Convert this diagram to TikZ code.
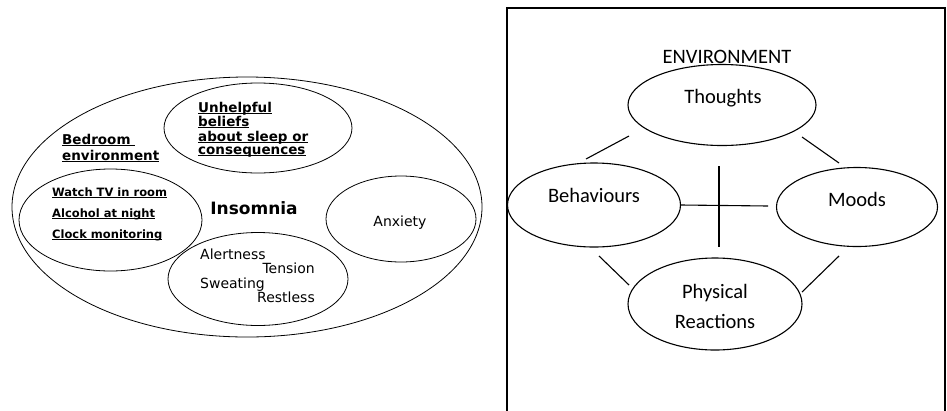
\documentclass[tikz,border=0pt]{standalone}
\usepackage{fontspec}
\setmainfont{DejaVu Sans}
\newfontfamily\calib{Carlito}
\usetikzlibrary{shapes.geometric}
% thick underline for the bold labels
\newcommand\myul[1]{\setbox0\hbox{#1}\rlap{\raisebox{-2.2pt}{\rule{\wd0}{1.1pt}}}\box0}
\begin{document}
\begin{tikzpicture}[x=1pt,y=-1pt,
  oval/.style={draw, ellipse, inner sep=0pt, line width=0.8pt},
  rov/.style={draw, ellipse, inner sep=0pt, line width=1.1pt},
  boldlbl/.style={inner sep=0pt, anchor=base west, font=\fontsize{13.5}{14}\selectfont\bfseries},
  smlbl/.style={inner sep=0pt, anchor=base west, font=\fontsize{11.5}{12}\selectfont\bfseries},
  thinlbl/.style={inner sep=0pt, font=\fontsize{14}{15}\selectfont},
  cal/.style={inner sep=0pt, anchor=base, font=\calib\fontsize{20.5}{22}\selectfont},
  link/.style={line width=1.1pt}]
\useasboundingbox (0,0) rectangle (947,410);

% ---- insomnia model ----
\node[oval, minimum width=470, minimum height=260] (outer) at (247,207) {};
\node[oval, minimum width=188, minimum height=90] (beliefs) at (258,128) {};
\node[oval, minimum width=183, minimum height=102] (bedroom) at (110.5,220) {};
\node[oval, minimum width=180, minimum height=93] (body) at (258,279) {};
\node[oval, minimum width=150, minimum height=86] (anx) at (401,219) {};

\node[boldlbl] (b1) at (62,144) {\myul{Bedroom\ }};
\node[boldlbl] (b2) at (62,160) {\myul{environment}};

\node[boldlbl] (u1) at (198,112) {\myul{Unhelpful}};
\node[boldlbl] (u2) at (198,126) {\myul{beliefs}};
\node[boldlbl] (u3) at (198,141) {\myul{about sleep or}};
\node[boldlbl] (u4) at (198,154) {\myul{consequences}};

\node[smlbl] (w1) at (52,196) {\myul{Watch TV in room}};
\node[smlbl] (w2) at (52,217) {\myul{Alcohol at night}};
\node[smlbl] (w3) at (52,238) {\myul{Clock monitoring}};

\node[inner sep=0pt, anchor=base, font=\fontsize{17}{18}\selectfont\bfseries] (ins) at (254,214) {Insomnia};
\node[thinlbl, anchor=base] (anxt) at (400,226) {Anxiety};

\node[thinlbl, anchor=base west] (s1) at (200,259) {Alertness};
\node[thinlbl, anchor=base east] (s2) at (315,273) {Tension};
\node[thinlbl, anchor=base west] (s3) at (200,288) {Sweating};
\node[thinlbl, anchor=base east] (s4) at (315,302) {Restless};

% ---- cognitive model ----
\draw[line width=1.1pt] (507,412) -- (507,8) -- (945,8) -- (945,412);
\node[cal] (env) at (727,63) {ENVIRONMENT};

\node[rov, minimum width=188, minimum height=81] (th) at (722,105) {};
\node[rov, minimum width=173, minimum height=84] (be) at (594,205) {};
\node[rov, minimum width=161, minimum height=79] (mo) at (857,207) {};
\node[rov, minimum width=174, minimum height=92] (ph) at (715,304) {};

\node[cal] (tht) at (723,103) {Thoughts};
\node[cal] (bet) at (594,202) {Behaviours};
\node[cal] (mot) at (857,206) {Moods};
\node[cal] (pht1) at (715,298) {Physical};
\node[cal] (pht2) at (715,328) {Reactions};

% free-standing links between the ovals
\coordinate (l1a) at (586,159); \coordinate (l1b) at (629,136);
\coordinate (l2a) at (802,137); \coordinate (l2b) at (839,163);
\coordinate (l3a) at (599,256); \coordinate (l3b) at (629,285);
\coordinate (l4a) at (839,256); \coordinate (l4b) at (802,292);
\coordinate (hx) at (768,206);
\coordinate (vt) at (719,166); \coordinate (vb) at (719,247);
\draw[link] (l1a) -- (l1b);
\draw[link] (l2a) -- (l2b);
\draw[link] (l3a) -- (l3b);
\draw[link] (l4a) -- (l4b);
\draw[link] (be.east) -- (hx);
\draw[link] (vt) -- (vb);
\end{tikzpicture}
\end{document}
